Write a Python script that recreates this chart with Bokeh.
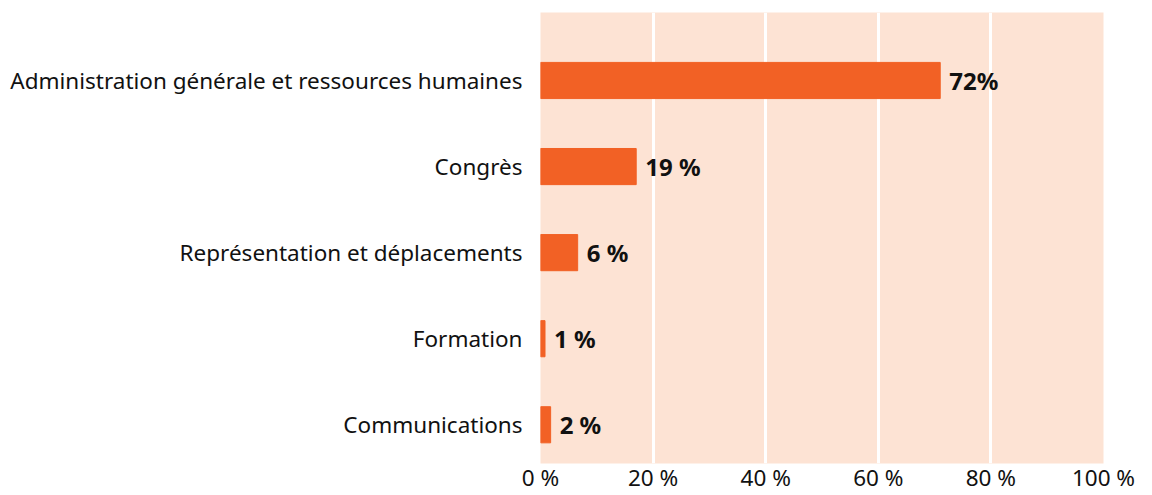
from bokeh.plotting import figure
from bokeh.models import ColumnDataSource, FixedTicker, Range1d
from bokeh.core.properties import value
from bokeh.embed import file_html
from bokeh.resources import INLINE

categories = ["Administration générale et ressources humaines", "Congrès",
              "Représentation et déplacements", "Formation", "Communications"]
values = [71, 17, 6.6, 0.8, 1.8]
value_labels = ["72%", "19 %", "6 %", "1 %", "2 %"]
x_ticks = [0, 20, 40, 60, 80, 100]
x_tick_labels = ["0 %", "20 %", "40 %", "60 %", "80 %", "100 %"]

FONT = "Noto Sans"
ypos = list(range(len(categories)))
src = ColumnDataSource(dict(y=ypos, v=values, lab=value_labels))

p = figure(width=1152, height=495, output_backend="svg", toolbar_location=None,
           x_range=Range1d(0, 100), y_range=Range1d(4.45, -0.79),
           min_border_left=540, min_border_right=49, min_border_top=12, min_border_bottom=31)
p.outline_line_color = None
p.background_fill_color = "#fde3d4"
p.border_fill_color = "white"

p.hbar(y="y", right="v", left=0, height=0.42, color="#f26125", source=src)
p.text(x="v", y="y", text="lab", source=src, x_offset=9, text_align="left",
       text_baseline="middle", text_font=value(FONT), text_font_style="bold",
       text_font_size="24px", text_color="#111111")

p.xgrid.ticker = FixedTicker(ticks=[20, 40, 60, 80])
p.xgrid.grid_line_color = "white"
p.xgrid.grid_line_width = 3
p.ygrid.grid_line_color = None

p.xaxis.ticker = FixedTicker(ticks=x_ticks)
p.xaxis.major_label_overrides = {t: l for t, l in zip(x_ticks, x_tick_labels)}
p.yaxis.ticker = FixedTicker(ticks=ypos)
p.yaxis.major_label_overrides = {i: c for i, c in zip(ypos, categories)}

for ax in (p.xaxis[0], p.yaxis[0]):
    ax.axis_line_color = None
    ax.major_tick_line_color = None
    ax.minor_tick_line_color = None
    ax.major_label_text_font = FONT
    ax.major_label_text_font_size = "22.5px"
    ax.major_label_text_color = "#111111"
p.xaxis.major_label_standoff = -8
p.yaxis.major_label_standoff = 12

open("out.html", "w").write(file_html(p, INLINE))
